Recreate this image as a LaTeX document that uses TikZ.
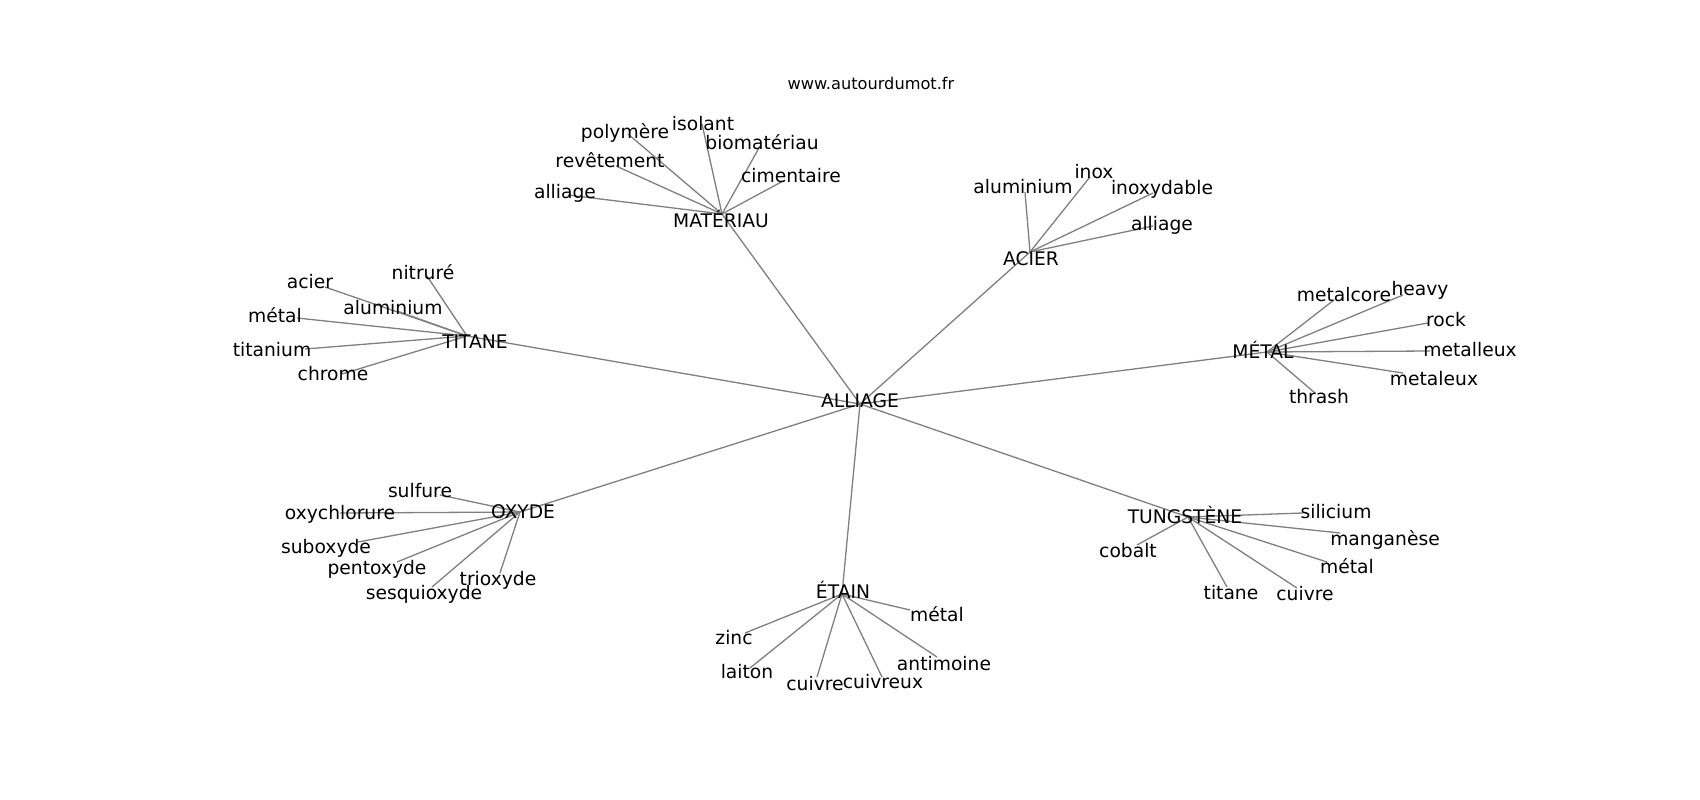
\documentclass[tikz,border=0pt]{standalone}
\usepackage{fontspec}
\setmainfont{DejaVu Sans}
\usetikzlibrary{backgrounds}
\definecolor{edgegray}{HTML}{808080}
\newcommand\wordleaf[7]{%
  \node[word] (#1) at (#2,#3) {#6};
  \coordinate (#1e) at (#4,#5);
  \begin{scope}[on background layer]\draw[edge] (#7) -- (#1e);\end{scope}%
}
\newcommand\hubword[6]{%
  \node[word] (#1) at (#2,#3) {#6};
  \coordinate (#1P) at (#4,#5);
}
\begin{document}
\begin{tikzpicture}[x=1pt,y=-1pt,
  word/.style={inner sep=0pt, text height=0.76em, text depth=0.24em,
    font=\fontsize{18.7}{22}\selectfont, text=black, yshift=-3pt},
  sitetitle/.style={inner sep=0pt, text height=0.76em, text depth=0.24em,
    font=\fontsize{16.2}{19}\selectfont, text=black, yshift=-2pt},
  edge/.style={draw=edgegray, line width=1.3pt}]
\begin{scope}[on background layer]
\fill[white] (0,0) rectangle (1700,800);
\end{scope}
\useasboundingbox (0,0) rectangle (1700,800);

\node[sitetitle] (site) at (871,85) {www.autourdumot.fr};

% hubs
\hubword{alliage}{860}{402}{860}{404}{ALLIAGE}
\hubword{materiau}{721}{222}{722}{214}{MATÉRIAU}
\hubword{acier}{1031}{260}{1030}{252}{ACIER}
\hubword{metal}{1263}{353}{1267}{352}{MÉTAL}
\hubword{tungstene}{1185}{518}{1188}{517}{TUNGSTÈNE}
\hubword{etain}{843}{593}{842}{594}{ÉTAIN}
\hubword{oxyde}{523}{513}{520}{512}{OXYDE}
\hubword{titane}{475}{343}{467}{336}{TITANE}

\begin{scope}[on background layer]
\foreach \h in {materiau,acier,metal,tungstene,etain,oxyde,titane}
  \draw[edge] (alliageP) -- (\h P);
\end{scope}

% MATÉRIAU
\wordleaf{ma1}{625}{133}{628}{134}{polymère}{materiauP}
\wordleaf{ma2}{703}{125}{702}{124}{isolant}{materiauP}
\wordleaf{ma3}{762}{144}{759}{148}{biomatériau}{materiauP}
\wordleaf{ma4}{610}{162}{616}{166}{revêtement}{materiauP}
\wordleaf{ma5}{791}{177}{785}{180}{cimentaire}{materiauP}
\wordleaf{ma6}{565}{193}{568}{195}{alliage}{materiauP}

% TITANE
\wordleaf{ti1}{423}{274}{427}{276}{nitruré}{titaneP}
\wordleaf{ti2}{310}{283}{325}{287}{acier}{titaneP}
\wordleaf{ti3}{393}{309}{397}{311}{aluminium}{titaneP}
\wordleaf{ti4}{275}{317}{297}{318}{métal}{titaneP}
\wordleaf{ti5}{272}{351}{305}{349}{titanium}{titaneP}
\wordleaf{ti6}{333}{375}{342}{374}{chrome}{titaneP}

% OXYDE
\wordleaf{ox1}{420}{492}{440}{495}{sulfure}{oxydeP}
\wordleaf{ox2}{340}{514}{340}{513}{oxychlorure}{oxydeP}
\wordleaf{ox3}{326}{548}{358}{542}{suboxyde}{oxydeP}
\wordleaf{ox4}{377}{569}{397}{562}{pentoxyde}{oxydeP}
\wordleaf{ox5}{424}{594}{432}{587}{sesquioxyde}{oxydeP}
\wordleaf{ox6}{498}{580}{500}{573}{trioxyde}{oxydeP}

% ÉTAIN
\wordleaf{et1}{734}{639}{745}{633}{zinc}{etainP}
\wordleaf{et2}{747}{673}{750}{668}{laiton}{etainP}
\wordleaf{et3}{815}{685}{817}{677}{cuivre}{etainP}
\wordleaf{et4}{883}{683}{882}{677}{cuivreux}{etainP}
\wordleaf{et5}{944}{665}{937}{657}{antimoine}{etainP}
\wordleaf{et6}{937}{616}{910}{610}{métal}{etainP}

% TUNGSTÈNE
\wordleaf{tu1}{1336}{513}{1303}{513}{silicium}{tungsteneP}
\wordleaf{tu2}{1385}{540}{1340}{533}{manganèse}{tungsteneP}
\wordleaf{tu3}{1347}{568}{1327}{562}{métal}{tungsteneP}
\wordleaf{tu4}{1305}{595}{1297}{588}{cuivre}{tungsteneP}
\wordleaf{tu5}{1231}{594}{1227}{587}{titane}{tungsteneP}
\wordleaf{tu6}{1128}{552}{1137}{545}{cobalt}{tungsteneP}

% MÉTAL
\wordleaf{me1}{1344}{296}{1334}{300}{metalcore}{metalP}
\wordleaf{me2}{1420}{290}{1403}{295}{heavy}{metalP}
\wordleaf{me3}{1446}{321}{1428}{323}{rock}{metalP}
\wordleaf{me4}{1470}{351}{1430}{351}{metalleux}{metalP}
\wordleaf{me5}{1434}{380}{1403}{373}{metaleux}{metalP}
\wordleaf{me6}{1319}{398}{1315}{393}{thrash}{metalP}

% ACIER
\wordleaf{ac1}{1023}{188}{1025}{192}{aluminium}{acierP}
\wordleaf{ac2}{1094}{173}{1090}{177}{inox}{acierP}
\wordleaf{ac3}{1162}{189}{1153}{193}{inoxydable}{acierP}
\wordleaf{ac4}{1162}{225}{1153}{226}{alliage}{acierP}
\end{tikzpicture}
\end{document}
